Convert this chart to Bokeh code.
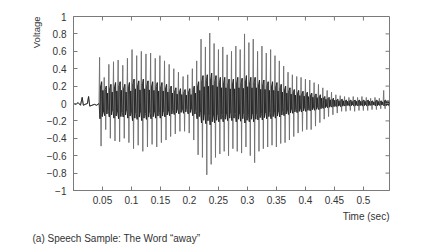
from bokeh.plotting import figure
from bokeh.models import Range1d, FixedTicker, Title
from bokeh.embed import file_html
from bokeh.resources import INLINE

# ---- data ----
x_ticks = [0.05, 0.1, 0.15, 0.2, 0.25, 0.3, 0.35, 0.4, 0.45, 0.5]
x_tick_labels = ["0.05", "0.1", "0.15", "0.2", "0.25", "0.3", "0.35", "0.4", "0.45", "0.5"]
y_ticks = [-1, -0.8, -0.6, -0.4, -0.2, 0, 0.2, 0.4, 0.6, 0.8, 1]
y_tick_labels = ["\u22121", "\u22120.8", "\u22120.6", "\u22120.4", "\u22120.2", "0",
                 "0.2", "0.4", "0.6", "0.8", "1"]
x_start, x_end = 0.0, 0.545
y_start, y_end = -1.0, 1.0

# silence before the onset (time, voltage)
pre_t = [0.0, 0.004, 0.008, 0.012, 0.015, 0.017, 0.020, 0.024, 0.026, 0.028, 0.032, 0.036, 0.040, 0.044]
pre_v = [0.0, -0.01, 0.01, -0.02, 0.07, -0.02, -0.01, 0.0, 0.08, -0.03, -0.02, -0.01, -0.02, 0.0]

# pitch periods of the voiced part: time of each period, positive peak, negative peak, inner band
pitch_t = [0.045, 0.053, 0.061, 0.069, 0.077, 0.085, 0.093, 0.101, 0.109, 0.117,
           0.125, 0.133, 0.141, 0.149, 0.157, 0.165, 0.173, 0.181, 0.189, 0.197,
           0.205, 0.2125, 0.22, 0.2275, 0.235, 0.2425, 0.25, 0.2575, 0.265, 0.2725,
           0.28, 0.2875, 0.295, 0.3025, 0.31, 0.3175, 0.325, 0.3325, 0.34, 0.3475,
           0.355, 0.3625, 0.37, 0.3775, 0.385, 0.3925, 0.40, 0.4075, 0.415, 0.4225,
           0.43, 0.4375, 0.445, 0.4525, 0.46, 0.4675, 0.475, 0.4825, 0.49, 0.4975,
           0.505, 0.5125, 0.52, 0.5275, 0.535, 0.5425]
peak_top = [0.53, 0.30, 0.45, 0.48, 0.50, 0.44, 0.52, 0.62, 0.55, 0.60,
            0.57, 0.58, 0.52, 0.55, 0.49, 0.45, 0.40, 0.36, 0.31, 0.33,
            0.40, 0.49, 0.74, 0.65, 0.81, 0.69, 0.62, 0.65, 0.56, 0.60,
            0.66, 0.62, 0.80, 0.70, 0.74, 0.60, 0.66, 0.58, 0.62, 0.55,
            0.49, 0.43, 0.36, 0.33, 0.31, 0.30, 0.28, 0.27, 0.24, 0.22,
            0.18, 0.15, 0.13, 0.10, 0.09, 0.08, 0.07, 0.08, 0.07, 0.08,
            0.07, 0.06, 0.07, 0.06, 0.15, 0.04]
peak_bottom = [-0.49, -0.30, -0.40, -0.43, -0.44, -0.40, -0.45, -0.52, -0.48, -0.55,
               -0.50, -0.47, -0.50, -0.45, -0.42, -0.38, -0.35, -0.32, -0.32, -0.34,
               -0.42, -0.59, -0.62, -0.82, -0.70, -0.62, -0.58, -0.55, -0.60, -0.52,
               -0.55, -0.57, -0.50, -0.60, -0.68, -0.55, -0.52, -0.50, -0.48, -0.50,
               -0.46, -0.45, -0.42, -0.38, -0.34, -0.32, -0.30, -0.30, -0.26, -0.22,
               -0.18, -0.15, -0.13, -0.11, -0.09, -0.09, -0.08, -0.09, -0.08, -0.08,
               -0.08, -0.07, -0.07, -0.06, -0.06, -0.03]
inner_band = [0.25, 0.20, 0.22, 0.24, 0.25, 0.22, 0.24, 0.28, 0.26, 0.28,
              0.26, 0.25, 0.24, 0.24, 0.22, 0.20, 0.18, 0.17, 0.16, 0.17,
              0.20, 0.25, 0.32, 0.33, 0.35, 0.32, 0.30, 0.30, 0.28, 0.28,
              0.30, 0.29, 0.32, 0.30, 0.30, 0.27, 0.27, 0.25, 0.25, 0.24,
              0.22, 0.20, 0.18, 0.16, 0.15, 0.14, 0.13, 0.12, 0.11, 0.10,
              0.08, 0.07, 0.06, 0.05, 0.05, 0.04, 0.04, 0.04, 0.04, 0.04,
              0.04, 0.03, 0.04, 0.03, 0.04, 0.02]

# ---- build the waveform polylines from the data ----
wave_t = list(pre_t)
wave_v = list(pre_v)
core_t = list(pre_t)
core_v = list(pre_v)
for i, t0 in enumerate(pitch_t):
    per = (pitch_t[i + 1] - t0) if i + 1 < len(pitch_t) else x_end - t0
    a = inner_band[i]
    shape = [(0.00, peak_top[i], False), (0.10, -0.7 * a, True), (0.20, 0.8 * a, True),
             (0.32, peak_bottom[i], False), (0.44, a, True), (0.58, -0.6 * a, True),
             (0.72, 0.6 * a, True), (0.86, -0.4 * a, True)]
    for frac, v, inner in shape:
        wave_t.append(t0 + frac * per)
        wave_v.append(v)
        if inner:
            core_t.append(t0 + frac * per)
            core_v.append(v)

FONT = "Liberation Sans"
TXT = "#333333"
AX = "#7a7a7a"

p = figure(width=422, height=252, output_backend="svg", toolbar_location=None,
           x_range=Range1d(x_start, x_end), y_range=Range1d(y_start, y_end),
           min_border_left=73, min_border_right=33, min_border_top=16, min_border_bottom=62)
p.background_fill_color = "white"
p.border_fill_color = "white"
p.grid.visible = False
p.outline_line_color = AX
p.outline_line_width = 1

p.line(wave_t, wave_v, line_color="#6e6e6e", line_width=0.9)
p.line(core_t, core_v, line_color="#1e1e1e", line_width=0.8)

# inward ticks on the top and right edges of the box
tick_dy = 4 / 87.0
tick_dx = 4 / 580.0
p.segment(x0=x_ticks, y0=[y_end] * len(x_ticks), x1=x_ticks,
          y1=[y_end - tick_dy] * len(x_ticks), line_color=AX, line_width=1)
p.segment(x0=[x_end] * len(y_ticks), y0=y_ticks, x1=[x_end - tick_dx] * len(y_ticks),
          y1=y_ticks, line_color=AX, line_width=1)

for ax in (p.xaxis[0], p.yaxis[0]):
    ax.axis_line_color = AX
    ax.major_tick_line_color = AX
    ax.major_tick_in = 4
    ax.major_tick_out = 0
    ax.minor_tick_line_color = None
    ax.major_label_text_font = FONT
    ax.major_label_text_font_size = "10px"
    ax.major_label_text_color = TXT

p.xaxis[0].ticker = FixedTicker(ticks=x_ticks)
p.xaxis[0].major_label_overrides = {t: s for t, s in zip(x_ticks, x_tick_labels)}
p.xaxis[0].major_label_standoff = 5
p.yaxis[0].ticker = FixedTicker(ticks=y_ticks)
p.yaxis[0].major_label_overrides = {t: s for t, s in zip(y_ticks, y_tick_labels)}
p.yaxis[0].major_label_standoff = 7

p.add_layout(Title(text="Voltage", align="right", text_font=FONT, text_font_size="9.5px",
                   text_font_style="normal", text_color=TXT, standoff=4), "left")
p.add_layout(Title(text="Time (sec)", align="right", text_font=FONT, text_font_size="10px",
                   text_font_style="normal", text_color=TXT, standoff=4), "below")
p.add_layout(Title(text="(a) Speech Sample: The Word \u201caway\u201d", align="left",
                   offset=-41, text_font=FONT, text_font_size="10px",
                   text_font_style="normal", text_color=TXT, standoff=14), "below")

open("out.html", "w").write(file_html(p, INLINE))
